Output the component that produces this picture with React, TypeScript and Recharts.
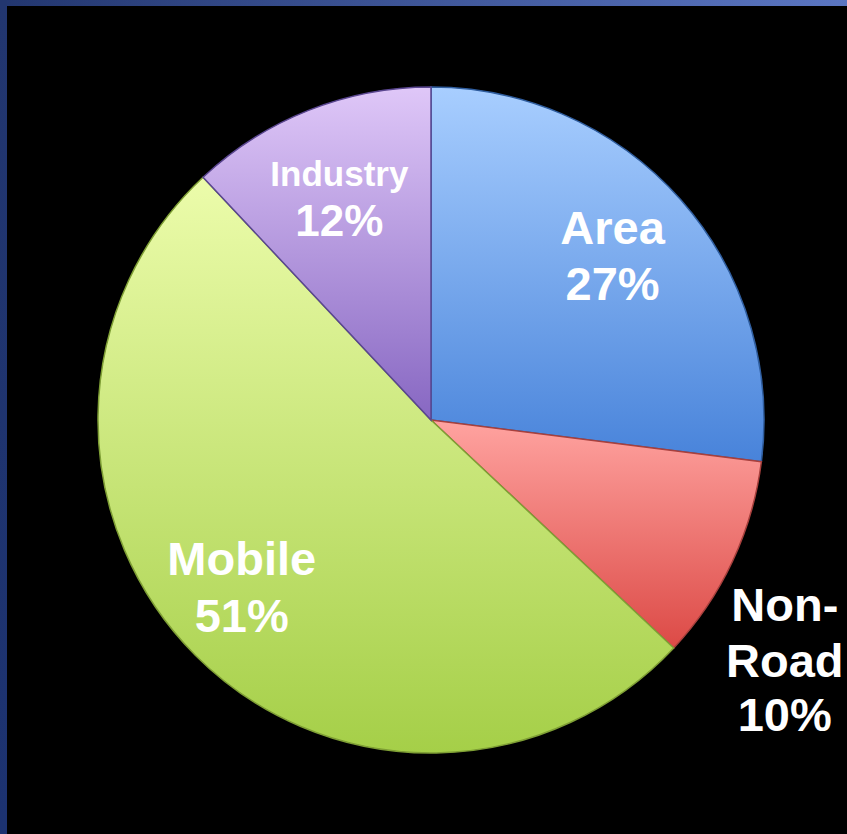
import React from 'react';
import { PieChart, Pie, Cell } from 'recharts';

const categories = ['Area', 'Non-Road', 'Mobile', 'Industry'];
const shares = [27, 10, 51, 12];
const nameLines = [['Area'], ['Non-', 'Road'], ['Mobile'], ['Industry']];

const gradientStops = [
  ['#a8ceff', '#4883da'],
  ['#ffa3a0', '#dc4a46'],
  ['#ecfcab', '#a5cf48'],
  ['#dfc7f8', '#8767c2'],
];
const edgeColors = ['#2f5d9e', '#a8403d', '#7f9f35', '#5a4690'];

// label placement: radius factor of outer radius, angle shift (deg), font sizes, line gaps
const labelLayout = [
  { r: 0.727, shift: 0, sizes: [47, 47], gap: [56] },
  { r: 1.246, shift: -6.3, sizes: [47, 47, 47], gap: [56, 54] },
  { r: 0.766, shift: -2.9, sizes: [47, 47], gap: [57] },
  { r: 0.71, shift: 1.2, sizes: [35, 44], gap: [50] },
];

const data = categories.map((name, i) => ({ name, value: shares[i] }));

const RAD = Math.PI / 180;

const renderLabel = (props: any) => {
  const { cx, cy, midAngle, outerRadius, index, value } = props;
  const lay = labelLayout[index];
  const ang = (midAngle + lay.shift) * RAD;
  const r = outerRadius * lay.r;
  const x = cx + r * Math.cos(ang);
  const y = cy - r * Math.sin(ang);
  const lines = [...nameLines[index], `${value}%`];
  let by = y - 16;
  return (
    <g key={`lbl-${index}`}>
      {lines.map((t, i) => {
        if (i > 0) by += lay.gap[i - 1];
        return (
          <text
            key={i}
            x={x}
            y={by}
            textAnchor="middle"
            fill="#ffffff"
            style={{ fontFamily: 'Liberation Sans, Arial, sans-serif', fontWeight: 700, fontSize: lay.sizes[i] }}
          >
            {t}
          </text>
        );
      })}
    </g>
  );
};

export default function App() {
  return (
    <div
      style={{
        position: 'absolute',
        left: 0,
        top: 0,
        width: 847,
        height: 834,
        background: '#000000',
        overflow: 'hidden',
      }}
    >
      <div
        style={{
          position: 'absolute',
          left: 0,
          top: 0,
          width: 847,
          height: 6,
          background: 'linear-gradient(to right, #22366f, #5b76c2)',
        }}
      />
      <div
        style={{
          position: 'absolute',
          left: 0,
          top: 0,
          width: 7,
          height: 834,
          background: 'linear-gradient(to bottom, #22366f, #1c3270)',
        }}
      />
      <svg width={0} height={0} style={{ position: 'absolute' }}>
        <defs>
          {gradientStops.map((g, i) => (
            <linearGradient key={i} id={`slice-grad-${i}`} x1="0" y1="0" x2="0" y2="1">
              <stop offset="0%" stopColor={g[0]} />
              <stop offset="100%" stopColor={g[1]} />
            </linearGradient>
          ))}
        </defs>
      </svg>
      <div style={{ position: 'absolute', left: 0, top: 0 }}>
        <PieChart width={847} height={834} margin={{ top: 0, right: 0, bottom: 0, left: 0 }}>
          <Pie
            data={data}
            dataKey="value"
            nameKey="name"
            cx={431}
            cy={420}
            outerRadius={333}
            startAngle={90}
            endAngle={-270}
            isAnimationActive={false}
            labelLine={false}
            label={renderLabel}
          >
            {data.map((d, i) => (
              <Cell
                key={d.name}
                fill={`url(#slice-grad-${i})`}
                stroke={edgeColors[i]}
                strokeWidth={1.5}
              />
            ))}
          </Pie>
        </PieChart>
      </div>
    </div>
  );
}
